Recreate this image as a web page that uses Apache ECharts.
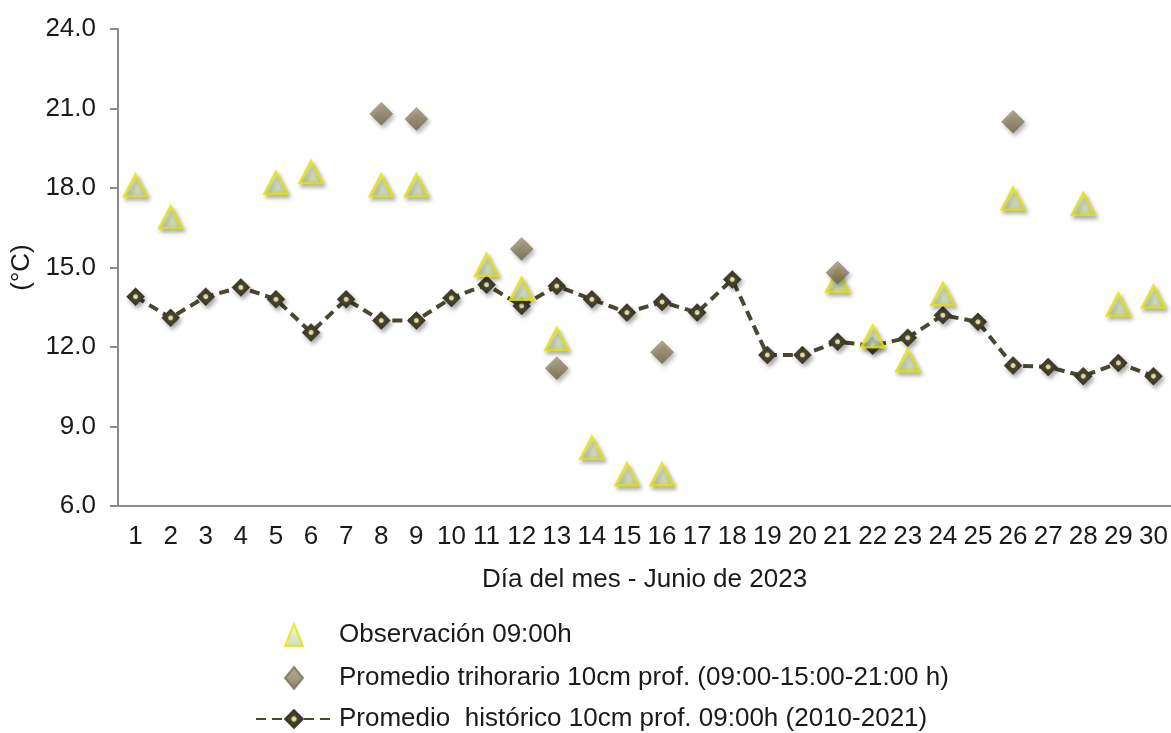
<!DOCTYPE html>
<html>
<head>
<meta charset="utf-8">
<script src="https://cdn.jsdelivr.net/npm/echarts@6/dist/echarts.min.js"></script>
<style>html,body{margin:0;padding:0;background:#fff;}#c{width:1171px;height:733px;}</style>
</head>
<body>
<div id="c"></div>
<script>
var days = ['1','2','3','4','5','6','7','8','9','10','11','12','13','14','15','16','17','18','19','20','21','22','23','24','25','26','27','28','29','30'];
var yTicks = [6, 9, 12, 15, 18, 21, 24];
var observacion = [18.1,16.9,null,null,18.2,18.6,null,18.1,18.1,null,15.1,14.2,12.3,8.2,7.2,7.2,null,null,null,null,14.5,12.4,11.5,14.0,null,17.6,null,17.4,13.6,13.9];
var trihorario = [null,null,null,null,null,null,null,20.8,20.6,null,null,15.7,11.2,null,null,11.8,null,null,null,null,14.8,null,null,null,null,20.5,null,null,null,null];
var historico = [13.9,13.1,13.9,14.25,13.8,12.55,13.8,13.0,13.0,13.85,14.35,13.55,14.3,13.8,13.3,13.7,13.3,14.55,11.7,11.7,12.2,12.05,12.35,13.2,12.95,11.3,11.25,10.9,11.4,10.9];
var names = ['Observación 09:00h', 'Promedio trihorario 10cm prof. (09:00-15:00-21:00 h)', 'Promedio  histórico 10cm prof. 09:00h (2010-2021)'];

var FONT = 'Liberation Sans, Arial, sans-serif';
var shadow = {shadowBlur: 4, shadowColor: 'rgba(0,0,0,0.35)', shadowOffsetX: 2, shadowOffsetY: 3};
var legendText = {fontFamily: FONT, fontSize: 26, color: '#1a1a1a', lineHeight: 28};

var chart = echarts.init(document.getElementById('c'), null, {renderer: 'canvas'});
chart.setOption({
  animation: false,
  backgroundColor: '#ffffff',
  textStyle: {fontFamily: FONT},
  grid: {left: 118, right: -2, top: 29, bottom: 227, containLabel: false},
  legend: [
    {
      orient: 'vertical',
      left: 284,
      top: 621,
      padding: 0,
      itemWidth: 18,
      itemHeight: 22,
      itemGap: 15,
      textStyle: Object.assign({padding: [0, 0, 0, 31]}, legendText),
      data: [names[0], names[1]]
    },
    {
      orient: 'vertical',
      left: 255,
      top: 705,
      padding: 0,
      itemWidth: 76,
      itemHeight: 22,
      textStyle: Object.assign({padding: [0, 0, 0, 2]}, legendText),
      data: [names[2]]
    }
  ],
  xAxis: {
    type: 'category',
    data: days,
    boundaryGap: true,
    name: 'Día del mes - Junio de 2023',
    nameLocation: 'middle',
    nameGap: 61,
    nameTextStyle: {fontFamily: FONT, fontSize: 26, color: '#1a1a1a'},
    axisLine: {lineStyle: {color: '#8c8c8c', width: 2}},
    axisTick: {show: false},
    axisLabel: {fontFamily: FONT, fontSize: 26, color: '#1a1a1a', margin: 18, interval: 0},
    splitLine: {show: false}
  },
  yAxis: {
    type: 'value',
    min: yTicks[0],
    max: yTicks[yTicks.length - 1],
    interval: 3,
    name: '(°C)',
    nameLocation: 'middle',
    nameGap: 76,
    nameRotate: 90,
    nameTextStyle: {fontFamily: FONT, fontSize: 26, color: '#1a1a1a'},
    axisLine: {show: true, lineStyle: {color: '#8c8c8c', width: 2}},
    axisTick: {show: true, inside: false, length: 8, lineStyle: {color: '#8c8c8c', width: 2}},
    axisLabel: {fontFamily: FONT, fontSize: 26, color: '#1a1a1a', margin: 22, formatter: function (v) { return v.toFixed(1); }},
    splitLine: {show: false}
  },
  series: [
    {
      name: names[0],
      type: 'scatter',
      z: 3,
      symbol: 'triangle',
      symbolSize: [23, 22],
      data: observacion,
      itemStyle: Object.assign({
        color: new echarts.graphic.LinearGradient(0, 0, 0, 1, [
          {offset: 0, color: '#f3f7e6'},
          {offset: 1, color: '#c2d4a4'}
        ]),
        borderColor: '#e6e300',
        borderWidth: 2.5
      }, shadow)
    },
    {
      name: names[1],
      type: 'scatter',
      z: 4,
      symbol: 'diamond',
      symbolSize: [23, 23],
      data: trihorario,
      itemStyle: Object.assign({
        color: new echarts.graphic.LinearGradient(0, 0, 0, 1, [
          {offset: 0, color: '#a39871'},
          {offset: 0.5, color: '#8b8060'},
          {offset: 1, color: '#6c6244'}
        ]),
        borderColor: '#7a7050',
        borderWidth: 0.5
      }, shadow)
    },
    {
      name: names[2],
      type: 'line',
      z: 2,
      symbol: 'diamond',
      symbolSize: 18,
      showAllSymbol: true,
      data: historico,
      lineStyle: {color: '#4a4632', width: 4, type: [10, 6]},
      itemStyle: Object.assign({
        color: new echarts.graphic.RadialGradient(0.5, 0.5, 0.5, [
          {offset: 0, color: '#f0f0c0'},
          {offset: 0.22, color: '#c9c890'},
          {offset: 0.32, color: '#4a4632'},
          {offset: 1, color: '#35321f'}
        ]),
        borderColor: '#3a3724',
        borderWidth: 0.5
      }, shadow)
    }
  ]
});
</script>
</body>
</html>
